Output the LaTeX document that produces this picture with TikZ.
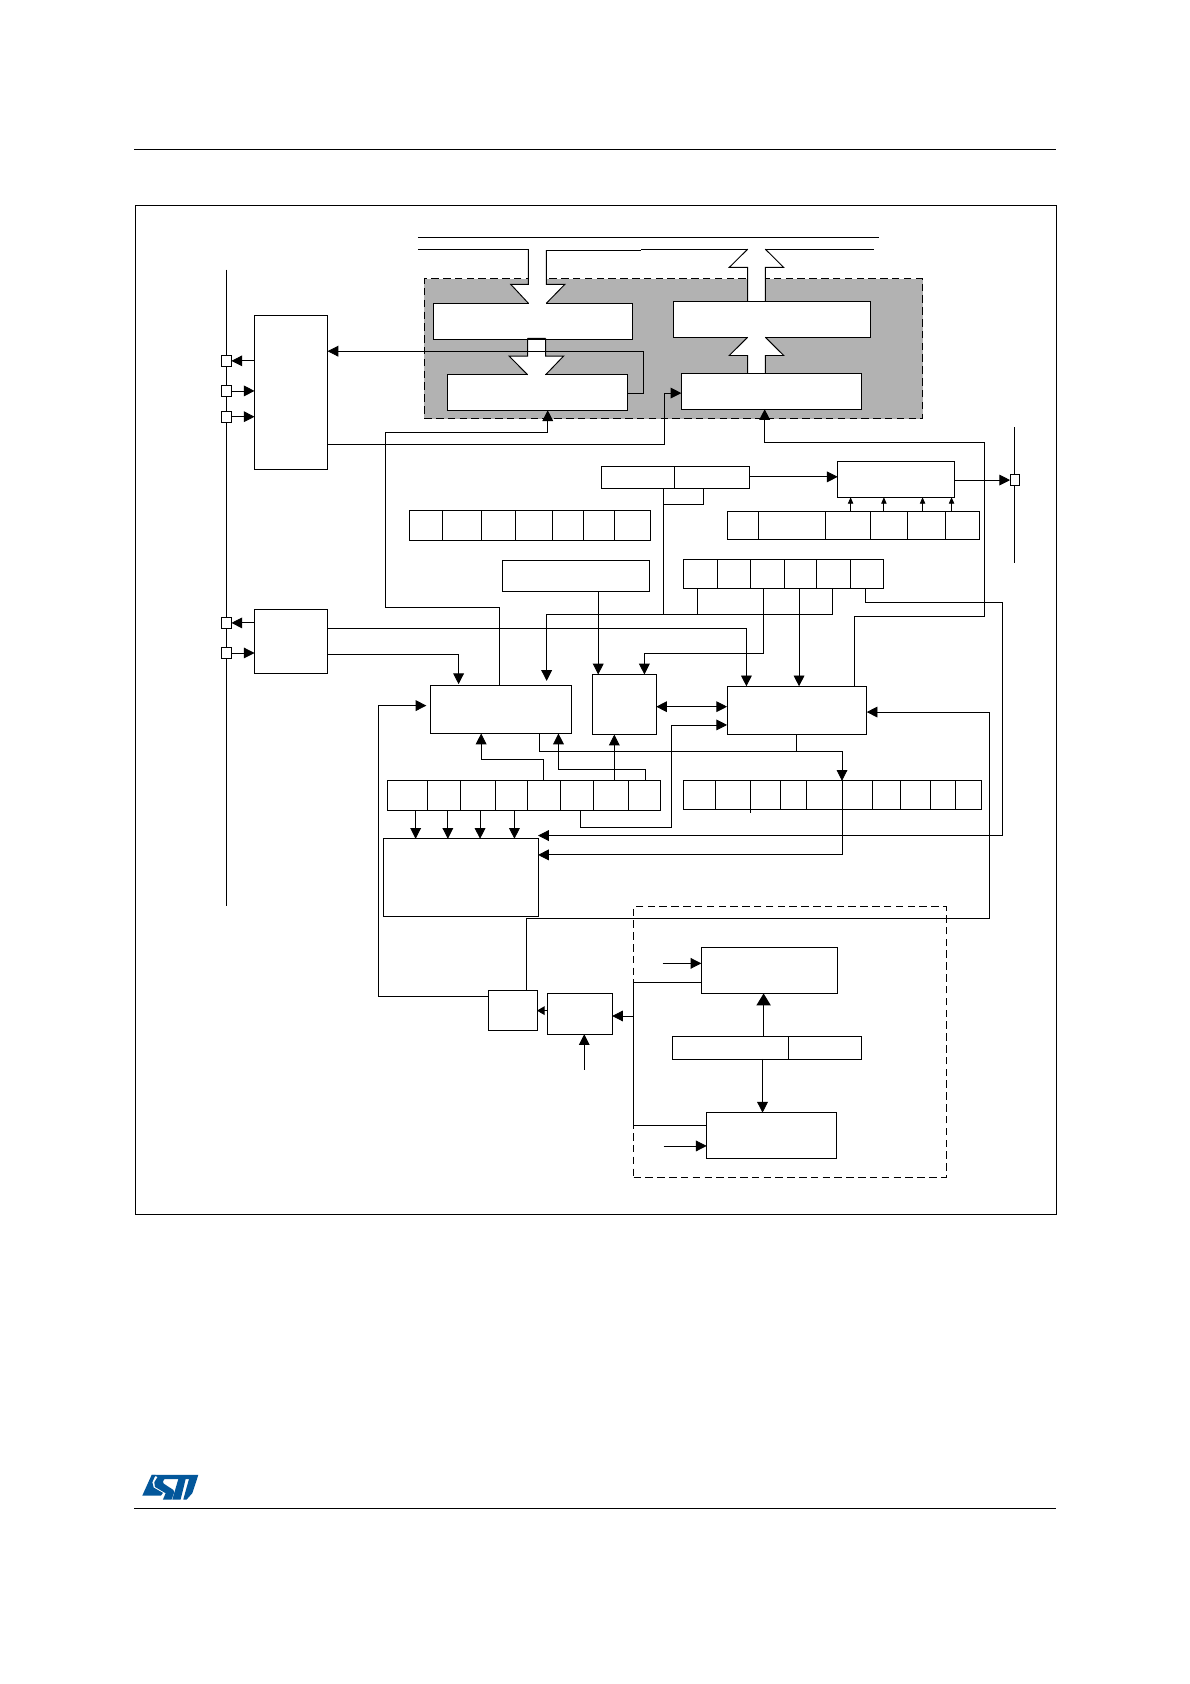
\documentclass[tikz,border=0pt]{standalone}
\usetikzlibrary{arrows.meta}
\definecolor{stblue}{HTML}{03579B}
\tikzset{
 ln/.style={line width=0.8pt,black},
 arr/.style={ln,-{Triangle[length=10pt,width=10pt]}},
 arrs/.style={ln,-{Triangle[length=6pt,width=5pt]}},
 darr/.style={ln,{Triangle[length=10pt,width=10pt]}-{Triangle[length=10pt,width=10pt]}},
 bx/.style={draw=black,line width=0.8pt,fill=white,inner sep=0pt,outer sep=0pt},
 pin/.style={bx,minimum width=9pt,minimum height=10pt},
 bigline/.style={draw=black,line width=0.9pt},
}
% name, x1, y1, x2, y2
\newcommand{\boxat}[5]{%
 \pgfmathsetmacro{\cxx}{(#2+#4)/2}\pgfmathsetmacro{\cyy}{(#3+#5)/2}%
 \pgfmathsetmacro{\wwx}{#4-#2}\pgfmathsetmacro{\hhx}{#5-#3}%
 \node[bx,minimum width=\wwx pt,minimum height=\hhx pt] (#1) at (\cxx,\cyy) {};}
% node, list of x dividers
\newcommand{\dividers}[2]{\foreach \dx in {#2}{\draw[ln] (#1.north -| \dx,0) -- (#1.south -| \dx,0);}}
\begin{document}
\begin{tikzpicture}[x=1pt,y=-1pt]
\useasboundingbox (0,0) rectangle (1108,1568);
\fill[white] (0,0) rectangle (1108,1568);
% page rules and frame
\coordinate (tl) at (125,139); \coordinate (tr) at (983,139);
\coordinate (bl) at (125,1405); \coordinate (br) at (983,1405);
\draw[ln,line width=1pt] (tl) -- (tr); \draw[ln,line width=1pt] (bl) -- (br);
\node[draw=black,line width=0.8pt,inner sep=0pt,minimum width=858pt,minimum height=940pt] (frame) at (555,661) {};
% shaded block
\node[draw=black,dashed,dash pattern=on 7pt off 4pt,line width=0.8pt,fill=black!30,inner sep=0pt,minimum width=464pt,minimum height=130.5pt] (shade) at (627,324.8) {};
% top buses
\coordinate (b1a) at (389,221); \coordinate (b1b) at (818,221);
\draw[ln] (b1a) -- (b1b);
\draw[ln] (389,232) -- (492,232);
\draw[ln] (508.7,233) -- (597,233);
\draw[ln] (597,232) -- (696.2,232);
\draw[ln] (712.6,232) -- (814,232);
% large outlined arrows: white body first, outline on top
\fill[white] (492,232) -- (492,264.7) -- (475.5,264.7) -- (492,282.4) -- (508.7,282.4) -- (526,264.7) -- (508.7,264.7) -- (508.7,232) -- cycle;
\fill[white] (696.2,281) -- (696.2,249) -- (679,249) -- (696.2,232) -- (712.6,232) -- (729.7,249) -- (712.6,249) -- (712.6,281) -- cycle;
\fill[white] (491.3,316) -- (491.3,331.5) -- (474,331.5) -- (491.3,349) -- (508,349) -- (524.8,331.5) -- (508,331.5) -- (508,316) -- cycle;
\fill[white] (696.2,348) -- (696.2,331) -- (679,331) -- (696.2,314) -- (712.6,314) -- (729.7,331) -- (712.6,331) -- (712.6,348) -- cycle;
\boxat{fifoa}{403.5}{282.4}{588.8}{315.6}
\boxat{fifob}{627}{280.3}{810}{314}
\boxat{fifoc}{416.5}{348.5}{584.4}{382}
\boxat{fifod}{634.4}{347.6}{802}{381}
% openings where the wide arrows meet their blocks
\fill[white] (492.4,281) rectangle (508.3,284);
\fill[white] (491.7,347) rectangle (507.6,350);
\fill[white] (696.6,313) rectangle (712.2,315);
\draw[bigline] (492,232) -- (492,264.7) -- (475.5,264.7) -- (492,282.4);
\draw[bigline] (508.7,233) -- (508.7,264.7) -- (526,264.7) -- (508.7,282.4);
\draw[bigline] (696.2,280.3) -- (696.2,249) -- (679,249) -- (696.2,232);
\draw[bigline] (712.6,280.3) -- (712.6,249) -- (729.7,249) -- (712.6,232);
\draw[bigline] (491.3,315) -- (508,315) (491.3,315) -- (491.3,331.5) -- (474,331.5) -- (491.3,349);
\draw[bigline] (508,315) -- (508,331.5) -- (524.8,331.5) -- (508,349);
\draw[bigline] (696.2,347.6) -- (696.2,331) -- (679,331) -- (696.2,314);
\draw[bigline] (712.6,347.6) -- (712.6,331) -- (729.7,331) -- (712.6,314);
% left bus
\coordinate (busa) at (211,251); \coordinate (busb) at (211,844);
\draw[ln,line width=1pt] (busa) -- (busb);
\boxat{tall}{237}{294}{305}{437}
\boxat{low}{237}{567}{305}{627}
\node[pin] (p1) at (211,336) {};
\node[pin] (p2) at (211,364) {};
\node[pin] (p3) at (211,388) {};
\node[pin] (p4) at (211,580) {};
\node[pin] (p5) at (211,608) {};
\draw[arr] (tall.west |- p1) -- (p1.east);
\draw[arr] (p2.east) -- (tall.west |- p2);
\draw[arr] (p3.east) -- (tall.west |- p3);
\draw[arr] (low.west |- p4) -- (p4.east);
\draw[arr] (p5.east) -- (low.west |- p5);
% right pin
\coordinate (rbusa) at (945,398); \coordinate (rbusb) at (945,524);
\draw[ln] (rbusa) -- (rbusb);
\node[pin] (p6) at (945,447) {};
\boxat{out}{780}{430}{889}{463}
\draw[arr] (out.east |- p6) -- (p6.west);
\boxat{split}{560}{434}{698}{455}
\dividers{split}{628}
\draw[arr] (split.east |- 0,444) -- (out.west |- 0,444);
% registers
\boxat{rega}{381}{475}{606}{503}
\dividers{rega}{412,448,480,514,543,572}
\boxat{regb}{677}{476}{912}{502}
\dividers{regb}{706,769,810,845,880}
\foreach \ax in {792,823,859,886}{\draw[arrs] (regb.north -| \ax,0) -- (out.south -| \ax,0);}
\boxat{bar}{468}{522}{605}{551}
\boxat{regc}{636}{521}{823}{548}
\dividers{regc}{668,699,730,760,792}
\boxat{ctla}{401}{638}{532}{683}
\boxat{ctlb}{552}{628}{611}{684}
\boxat{ctlc}{677}{639}{807}{684}
\boxat{regd}{361}{727}{615}{755}
\dividers{regd}{398,429,461,491,522,553,585}
\boxat{rege}{636}{727}{914}{754}
\dividers{rege}{666,699,727,751,784,812,838,866,890}
\draw[ln] (699,754) -- (699,757);
\boxat{core}{357}{781}{501}{853}
% connectors upper
\draw[arr] (fifoc.east |- 0,366) -- (599,366) -- (599,327) -- (tall.east |- 0,327);
\draw[arr] (tall.east |- 0,414) -- (619,414) -- (619,366) -- (fifod.west |- 0,366);
\draw[arr] (ctla.north -| 465,0) -- (465,566) -- (359,566) -- (359,403) -- (510,403) -- (fifoc.south -| 510,0);
\draw[arr] (ctlc.north -| 796,0) -- (796,574) -- (917,574) -- (917,412) -- (712,412) -- (fifod.south -| 712,0);
\draw[ln] (split.south -| 618,0) -- (618,572);
\draw[ln] (split.south -| 655,0) -- (655,470) -- (618,470);
\draw[arr] (bar.south -| 557,0) -- (ctlb.north -| 557,0);
\draw[ln] (regc.south -| 649,0) -- (649,572);
\draw[ln] (regc.south -| 775,0) -- (775,572) -- (509,572);
\draw[arr] (509,572) -- (509,634);
\draw[arr] (regc.south -| 711,0) -- (711,608) -- (600,608) -- (ctlb.north -| 600,0);
\draw[arr] (regc.south -| 744,0) -- (ctlc.north -| 744,0);
\draw[arr] (regc.south -| 806,0) -- (806,561) -- (933,561) -- (933,778) -- (core.east |- 0,778);
\draw[arr] (low.east |- 0,585) -- (695,585) -- (ctlc.north -| 695,0);
\draw[arr] (low.east |- 0,609) -- (427,609) -- (427,637);
\draw[darr] (ctlb.east |- 0,658) -- (ctlc.west |- 0,658);
\draw[arr] (regd.south -| 540,0) -- (540,770) -- (625,770) -- (625,675) -- (ctlc.west |- 0,675);
\draw[arr] (ctla.south -| 502,0) -- (502,700) -- (784,700) -- (rege.north -| 784,0);
\draw[ln] (ctlc.south -| 742,0) -- (742,700);
\draw[arr] (rege.south -| 784,0) -- (784,796) -- (core.east |- 0,796);
\draw[arr] (regd.north -| 506,0) -- (506,707) -- (448,707) -- (ctla.south -| 448,0);
\draw[arr] (regd.north -| 601,0) -- (601,716) -- (520,716) -- (ctla.south -| 520,0);
\draw[arr] (regd.north -| 572,0) -- (ctlb.south -| 572,0);
\foreach \ax in {387,417,447,479}{\draw[arr] (regd.south -| \ax,0) -- (core.north -| \ax,0);}
% lower dashed block
\node[draw=black,dashed,dash pattern=on 7pt off 4pt,line width=0.8pt,inner sep=0pt,minimum width=291pt,minimum height=252pt] (dbox) at (735.5,970) {};
\boxat{osca}{653}{882}{780}{925}
\boxat{splitb}{626}{965}{802}{986}
\dividers{splitb}{734}
\boxat{oscb}{658}{1036}{779}{1079}
\boxat{mux}{510}{925}{570}{963}
\boxat{gate}{455}{922}{500}{959}
\coordinate (ina) at (617,897); \coordinate (inb) at (618,1067); \coordinate (inc) at (544,996);
\draw[arr] (ina) -- (osca.west |- ina);
\draw[arr] (inb) -- (oscb.west |- inb);
\draw[arr] (inc) -- (mux.south -| inc);
\draw[line width=1.4pt,-{Triangle[length=11pt,width=13pt]}] (splitb.north -| 711,0) -- (osca.south -| 711,0);
\draw[arr] (splitb.south -| 710,0) -- (oscb.north -| 710,0);
\draw[ln] (osca.west |- 0,915) -- (590,915) -- (590,1048) -- (oscb.west |- 0,1048);
\draw[arr] (590,946) -- (mux.east |- 0,946);
\draw[ln,-{Triangle[length=7pt,width=8pt]}] (mux.west |- 0,941) -- (gate.east |- 0,941);
\draw[arr] (gate.west |- 0,928) -- (352,928) -- (352,657) -- (397,657);
\draw[arr] (gate.north -| 490,0) -- (490,855) -- (921,855) -- (921,663) -- (ctlc.east |- 0,663);
% logo
\begin{scope}[shift={(125.7,1364)},x=0.31pt,y=-0.31pt]
\fill[stblue] (50,30) -- (190,30) -- (186,43) -- (88,43) -- (84,50) -- (86,56) -- (115,75) -- (118,82) -- (110,104) -- (84,104) -- (92,85) -- (60,66) -- (58,52) -- (68,36) -- cycle;
\fill[stblue] (50,30) -- (22,92) -- (78,92) -- (84,84) -- (56,68) -- (52,52) -- (62,30) -- cycle;
\fill[stblue] (130,43) -- (152,43) -- (137,104) -- (112,104) -- cycle;
\fill[stblue] (162,43) -- (186,43) -- (172,85) -- (155,104) -- (145,104) -- cycle;
\end{scope}
\end{tikzpicture}
\end{document}
